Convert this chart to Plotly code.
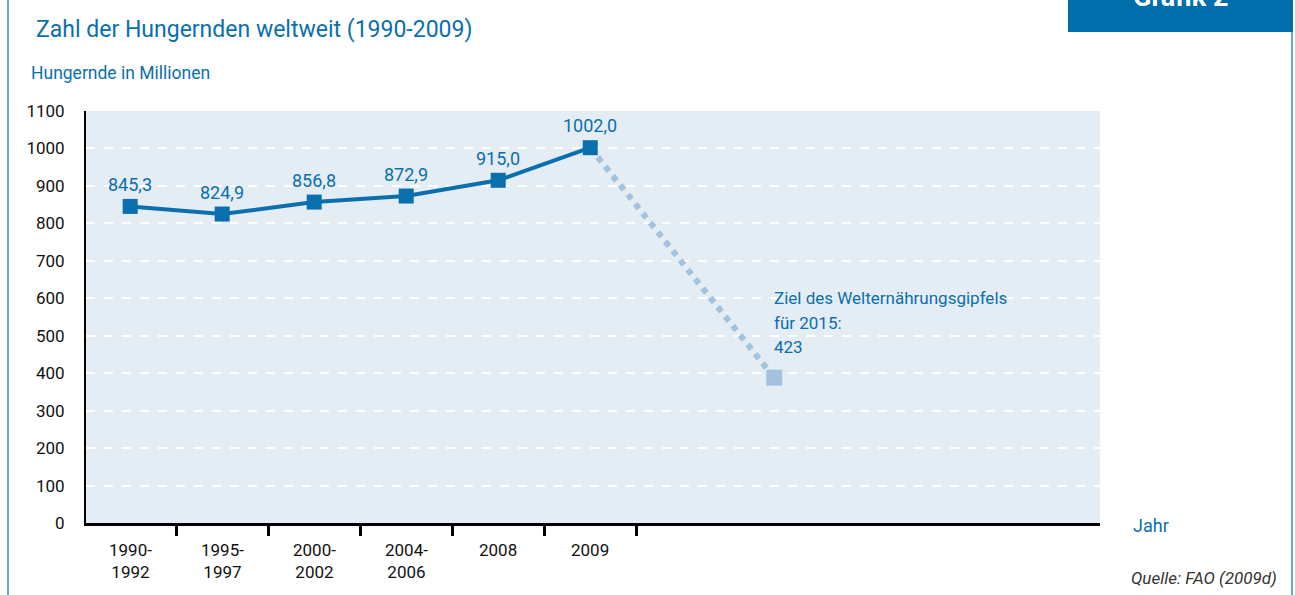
import plotly.graph_objects as go

categories = ["1990-<br>1992", "1995-<br>1997", "2000-<br>2002", "2004-<br>2006", "2008", "2009"]
values = [845.3, 824.9, 856.8, 872.9, 915.0, 1002.0]
target_label = "423"
target_plot_value = 388  # position as drawn in the reference
target_x = 7
target_text = ["Ziel des Welternährungsgipfels", "für 2015:", target_label]
y_ticks = list(range(0, 1101, 100))

BLUE = "#0a6fad"
LIGHT = "#a2c2de"
BG = "#e4ecf4"
FONT = "Roboto, Arial, sans-serif"

W, H = 1295, 595
L, R, T, B = 86, 1100, 111, 523


def px(x):
    return (x - L) / (R - L)


def py(y):
    return (B - y) / (B - T)


xs = list(range(len(values)))

fig = go.Figure()
fig.add_trace(go.Scatter(
    x=[xs[-1], target_x], y=[values[-1], target_plot_value], mode="lines",
    line=dict(color=LIGHT, width=6, dash="dot"), hoverinfo="skip", showlegend=False))
fig.add_trace(go.Scatter(
    x=[target_x], y=[target_plot_value], mode="markers",
    marker=dict(symbol="square", size=16, color=LIGHT), showlegend=False))
fig.add_trace(go.Scatter(
    x=xs, y=values, mode="lines+markers",
    line=dict(color=BLUE, width=4),
    marker=dict(symbol="square", size=15, color=BLUE), showlegend=False))

annotations = []
for x, v in zip(xs, values):
    annotations.append(dict(x=x, y=v, xref="x", yref="y", text=f"{v:.1f}".replace(".", ","),
                            showarrow=False, yshift=22, font=dict(family=FONT, size=18, color=BLUE)))
for x, c in zip(xs, categories):
    annotations.append(dict(x=x, y=py(538), xref="x", yref="paper", text=c, showarrow=False,
                            yanchor="top", align="center",
                            font=dict(family=FONT, size=17, color="#111111")))
for i, line in enumerate(target_text):
    annotations.append(dict(x=target_x, y=py(298 + 24.5 * i), xref="x", yref="paper", xanchor="left",
                            yanchor="middle", xshift=-2, align="left", showarrow=False, text=line,
                            font=dict(family=FONT, size=17, color=BLUE)))
annotations += [
    dict(x=px(34), y=py(30), xref="paper", yref="paper", xanchor="left", yanchor="middle", showarrow=False,
         text="Zahl der Hungernden weltweit (1990-2009)", font=dict(family=FONT, size=23, color=BLUE)),
    dict(x=px(29), y=py(73), xref="paper", yref="paper", xanchor="left", yanchor="middle", showarrow=False,
         text="Hungernde in Millionen", font=dict(family=FONT, size=17.5, color=BLUE)),
    dict(x=px(1131), y=py(525), xref="paper", yref="paper", xanchor="left", yanchor="middle", showarrow=False,
         text="Jahr", font=dict(family=FONT, size=18, color=BLUE)),
    dict(x=px(1279), y=py(578), xref="paper", yref="paper", xanchor="right", yanchor="middle", showarrow=False,
         text="<i>Quelle: FAO (2009d)</i>", font=dict(family=FONT, size=17, color="#333333")),
    dict(x=px(1180), y=py(-3), xref="paper", yref="paper", xanchor="center", yanchor="middle", showarrow=False,
         text="<b>Grafik 2</b>", font=dict(family=FONT, size=27, color="white")),
]

shapes = [
    dict(type="rect", xref="paper", yref="paper", x0=px(1068), x1=px(1293), y0=py(0), y1=py(32),
         fillcolor="#006eab", line=dict(width=0), layer="above"),
    dict(type="line", xref="paper", yref="paper", x0=px(8), x1=px(8), y0=py(0), y1=py(595),
         line=dict(color="#3d86bf", width=1.5)),
    dict(type="line", xref="paper", yref="paper", x0=px(1292), x1=px(1292), y0=py(32), y1=py(595),
         line=dict(color="#3d86bf", width=1.5)),
]

fig.update_layout(
    width=W, height=H,
    margin=dict(l=L, r=W - R, t=T, b=H - B),
    paper_bgcolor="white", plot_bgcolor=BG,
    font=dict(family=FONT, size=17, color="#111111"),
    annotations=annotations, shapes=shapes,
    xaxis=dict(range=[-0.48, 10.54], tickvals=[i + 0.5 for i in range(len(values))],
               ticktext=[""] * len(values), ticks="outside", ticklen=10, tickwidth=2.5, tickcolor="black",
               showline=True, linecolor="black", linewidth=3, showgrid=False, zeroline=False,
               fixedrange=True),
    yaxis=dict(range=[0, 1100], tickvals=y_ticks, ticks="", ticklabelstandoff=16,
               tickfont=dict(family=FONT, size=17, color="#111111"),
               showline=True, linecolor="black", linewidth=2,
               showgrid=True, gridcolor="white", griddash="dash", gridwidth=1.5, zeroline=False),
)

fig.write_html("out.html", config={"displayModeBar": False},
               post_script="document.body.style.margin='0px';document.body.style.overflow='hidden';")
